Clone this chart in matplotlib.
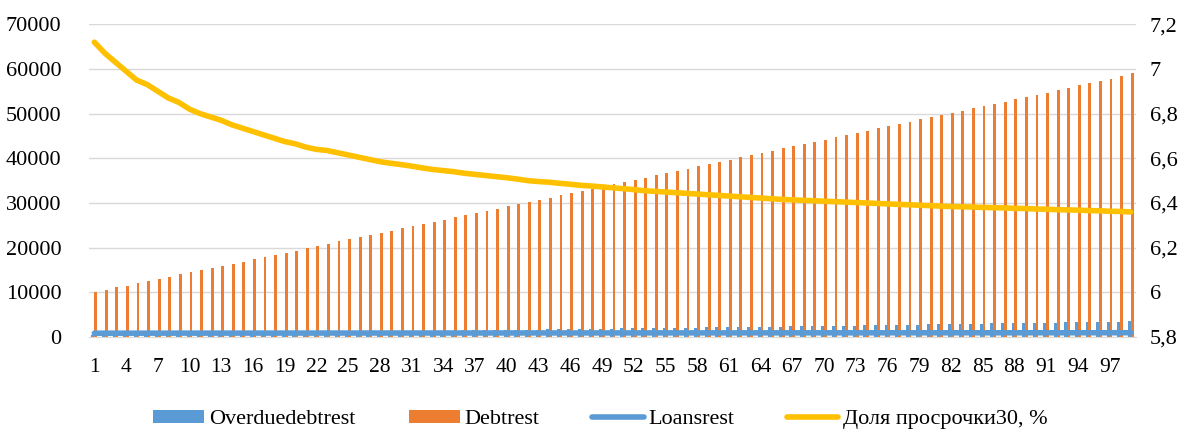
import numpy as np
import matplotlib
matplotlib.use("Agg")
from matplotlib import pyplot as plt
from matplotlib.ticker import FuncFormatter

plt.rcParams['font.family'] = ['Liberation Serif', 'DejaVu Serif']

periods = list(range(1, 100))

debtrest = [
    10000, 10600, 11100, 11500, 12000, 12600, 12900, 13500, 14000, 14600,
    14900, 15500, 16000, 16400, 16900, 17400, 17900, 18400, 18900, 19300,
    19900, 20400, 20900, 21400, 21900, 22400, 22800, 23300, 23800, 24300,
    24800, 25300, 25800, 26300, 26800, 27300, 27800, 28300, 28700, 29300,
    29700, 30200, 30700, 31200, 31700, 32200, 32700, 33200, 33700, 34200,
    34700, 35200, 35700, 36200, 36700, 37200, 37700, 38200, 38700, 39200,
    39700, 40200, 40700, 41200, 41700, 42200, 42700, 43200, 43700, 44200,
    44700, 45200, 45700, 46200, 46700, 47200, 47700, 48200, 48700, 49200,
    49700, 50200, 50700, 51200, 51700, 52200, 52700, 53200, 53700, 54200,
    54700, 55200, 55700, 56300, 56900, 57400, 57800, 58400, 59000,
]

overduedebtrest = [
    550, 576, 603, 629, 656, 682, 708, 735, 761, 788,
    814, 840, 867, 893, 920, 946, 972, 999, 1025, 1052,
    1078, 1104, 1131, 1157, 1184, 1210, 1236, 1263, 1289, 1316,
    1342, 1368, 1395, 1421, 1448, 1474, 1500, 1529, 1558, 1588,
    1617, 1646, 1675, 1704, 1734, 1763, 1792, 1821, 1850, 1880,
    1909, 1938, 1967, 1996, 2026, 2055, 2084, 2113, 2142, 2172,
    2201, 2230, 2259, 2288, 2318, 2347, 2376, 2405, 2434, 2464,
    2493, 2522, 2550, 2587, 2623, 2660, 2696, 2733, 2769, 2806,
    2842, 2879, 2915, 2952, 2988, 3025, 3061, 3098, 3134, 3171,
    3207, 3244, 3280, 3317, 3353, 3390, 3426, 3463, 3500,
]

loansrest = [
    850, 850, 850, 855, 855, 855, 860, 860, 860, 865,
    865, 865, 870, 870, 870, 875, 875, 875, 880, 880,
    880, 880, 885, 885, 885, 885, 890, 890, 890, 890,
    895, 895, 895, 895, 900, 900, 900, 900, 905, 905,
    905, 905, 910, 910, 910, 910, 910, 915, 915, 915,
    915, 915, 920, 920, 920, 920, 920, 925, 925, 925,
    925, 925, 930, 930, 930, 930, 930, 930, 935, 935,
    935, 935, 935, 935, 940, 940, 940, 940, 940, 940,
    940, 945, 945, 945, 945, 945, 945, 945, 950, 950,
    950, 950, 950, 950, 950, 950, 955, 955, 955,
]

share30 = [
    7.12, 7.07, 7.03, 6.99, 6.95, 6.93, 6.90, 6.87, 6.85, 6.82,
    6.80, 6.785, 6.77, 6.75, 6.735, 6.72, 6.705, 6.69, 6.675, 6.665,
    6.65, 6.64, 6.635, 6.625, 6.615, 6.605, 6.595, 6.585, 6.578, 6.572,
    6.565, 6.557, 6.55, 6.545, 6.54, 6.533, 6.528, 6.523, 6.518, 6.513,
    6.507, 6.50, 6.496, 6.493, 6.488, 6.484, 6.479, 6.476, 6.472, 6.468,
    6.464, 6.46, 6.455, 6.452, 6.449, 6.446, 6.443, 6.44, 6.437, 6.434,
    6.431, 6.428, 6.425, 6.422, 6.419, 6.416, 6.414, 6.412, 6.41, 6.408,
    6.406, 6.404, 6.402, 6.40, 6.398, 6.396, 6.394, 6.392, 6.39, 6.388,
    6.386, 6.384, 6.383, 6.382, 6.38, 6.379, 6.378, 6.376, 6.375, 6.373,
    6.372, 6.37, 6.369, 6.368, 6.366, 6.365, 6.363, 6.362, 6.36,
]

BLUE = '#5B9BD5'
ORANGE = '#ED7D31'
YELLOW = '#FFC000'

fig = plt.figure(figsize=(11.89, 4.32), dpi=100)
ax = fig.add_axes([0.0749, 0.2199, 0.8805, 0.7239])
x = np.array(periods)
w = 0.27

b1 = ax.bar(x - w / 2, overduedebtrest, width=w, color=BLUE, label='Overduedebtrest', zorder=2)
b2 = ax.bar(x + w / 2, debtrest, width=w, color=ORANGE, label='Debtrest', zorder=2)
l1, = ax.plot(x, loansrest, color=BLUE, lw=4, label='Loansrest', zorder=3,
              solid_capstyle='round')

ax.set_xlim(0.5, 99.5)
ax.set_ylim(0, 70000)
ax.set_yticks(range(0, 70001, 10000))
ax.set_xticks(periods[::3])
ax.grid(axis='y', color='#D9D9D9', lw=1, zorder=0)
ax.set_axisbelow(True)
for s in ['top', 'right', 'left']:
    ax.spines[s].set_visible(False)
ax.spines['bottom'].set_color('#D9D9D9')
ax.tick_params(axis='y', length=0, labelsize=16, pad=20)
ax.tick_params(axis='x', length=0, labelsize=15.5, pad=15)

ax2 = ax.twinx()
l2, = ax2.plot(x, share30, color=YELLOW, lw=4, label='Доля просрочки30, %',
               solid_capstyle='round', zorder=4)
ax2.set_ylim(5.8, 7.2)
ax2.set_yticks([5.8, 6.0, 6.2, 6.4, 6.6, 6.8, 7.0, 7.2])
ax2.yaxis.set_major_formatter(FuncFormatter(lambda v, p: '{:g}'.format(round(v, 1)).replace('.', ',')))
for s in ax2.spines.values():
    s.set_visible(False)
ax2.tick_params(axis='y', length=0, labelsize=16, pad=10)

fig.legend([b1, b2, l1, l2],
           ['Overduedebtrest', 'Debtrest', 'Loansrest', 'Доля просрочки30, %'],
           loc='lower center', bbox_to_anchor=(0.505, -0.04), ncol=4, frameon=False,
           fontsize=16, handlelength=2.3, handleheight=0.5, columnspacing=2.4,
           handletextpad=0.2)

fig.savefig('out.png', dpi=100)
